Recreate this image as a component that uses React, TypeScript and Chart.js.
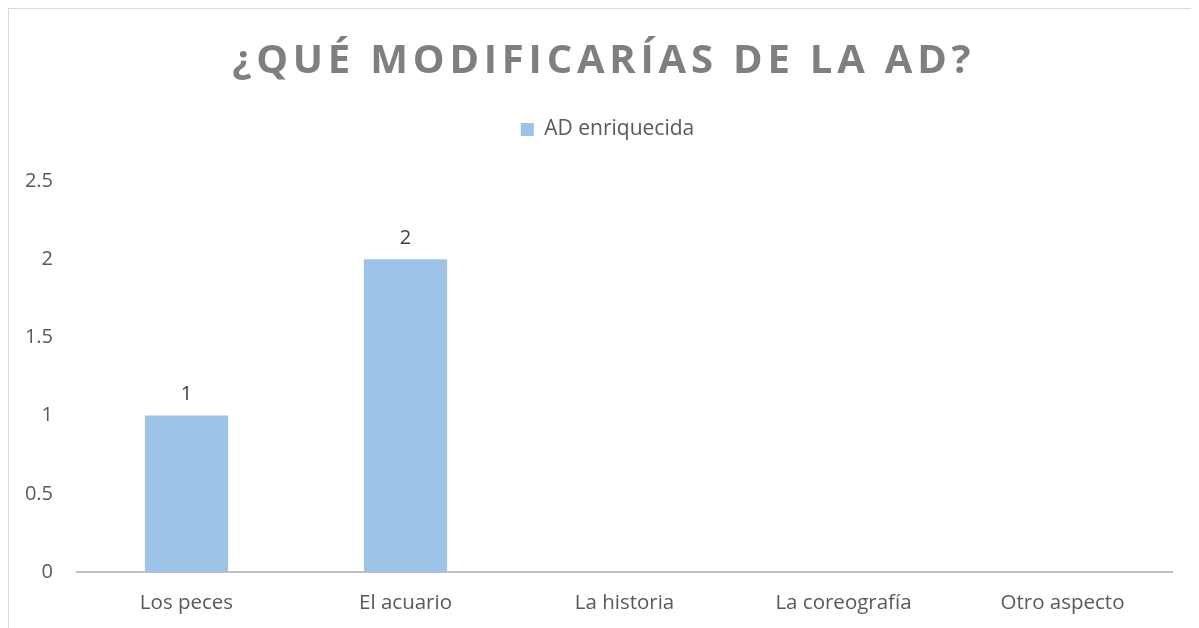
import React, { useEffect, useRef } from "react";
import { Chart, registerables } from "chart.js";

Chart.register(...registerables);

const titleText = "¿QUÉ MODIFICARÍAS DE LA AD?";
const seriesName = "AD enriquecida";
const categories = ["Los peces", "El acuario", "La historia", "La coreografía", "Otro aspecto"];
const values: (number | null)[] = [1, 2, null, null, null];
const yMin = 0;
const yMax = 2.5;
const yStep = 0.5;

const FONT = "'Open Sans', 'DejaVu Sans', sans-serif";
const LEGEND_HEIGHT = 72;
const LEGEND_SHIFT = 17;

const titlePlugin = {
  id: "spacedTitle",
  afterDraw(chart: any) {
    const ctx = chart.ctx as CanvasRenderingContext2D;
    ctx.save();
    const spacing = 4.8;
    (ctx as any).letterSpacing = spacing + "px";
    ctx.font = `bold 40px ${FONT}`;
    ctx.fillStyle = "#7f7f7f";
    ctx.textAlign = "center";
    ctx.textBaseline = "alphabetic";
    ctx.fillText(titleText, 592.5 + spacing / 2, 64);
    ctx.restore();
  },
};

const legendSpacer = {
  id: "legendSpacer",
  beforeLayout(chart: any) {
    const lg = chart.legend;
    if (lg && !lg.__patched) {
      const orig = lg.fit;
      lg.fit = function (this: any) {
        orig.call(this);
        this.height = LEGEND_HEIGHT;
      };
      lg.__patched = true;
    }
  },
  afterLayout(chart: any) {
    const lg = chart.legend;
    if (lg) {
      lg.left += LEGEND_SHIFT;
      lg.right += LEGEND_SHIFT;
    }
  },
};

const valueLabelPlugin = {
  id: "valueLabels",
  afterDatasetsDraw(chart: any) {
    const ctx = chart.ctx as CanvasRenderingContext2D;
    const meta = chart.getDatasetMeta(0);
    const data = chart.data.datasets[0].data;
    ctx.save();
    ctx.font = `20px ${FONT}`;
    ctx.fillStyle = "#404040";
    ctx.textAlign = "center";
    ctx.textBaseline = "bottom";
    meta.data.forEach((bar: any, i: number) => {
      const v = data[i];
      if (v === null || v === undefined) return;
      ctx.fillText(String(v), bar.x, bar.y - 11);
    });
    ctx.restore();
  },
};

export default function App() {
  const canvasRef = useRef<HTMLCanvasElement | null>(null);

  useEffect(() => {
    if (!canvasRef.current) return;
    const chart = new Chart(canvasRef.current, {
      type: "bar",
      data: {
        labels: categories,
        datasets: [
          {
            label: seriesName,
            data: values,
            backgroundColor: "#9dc3e6",
            borderWidth: 0,
            categoryPercentage: 1,
            barPercentage: 0.38,
          },
        ],
      },
      options: {
        animation: false,
        responsive: false,
        maintainAspectRatio: false,
        layout: { padding: { top: 100, right: 27, bottom: 0, left: 0 } },
        plugins: {
          title: { display: false },
          tooltip: { enabled: false },
          legend: {
            display: true,
            position: "top",
            labels: {
              boxWidth: 13,
              boxHeight: 13,
              padding: 10,
              color: "#595959",
              font: { family: FONT, size: 21 },
            },
          },
        },
        scales: {
          x: {
            afterFit: (scale: any) => {
              scale.height = 56;
            },
            grid: { display: true, drawOnChartArea: false, drawTicks: false },
            border: { display: true, color: "#bfbfbf", width: 2 },
            ticks: {
              color: "#595959",
              font: { family: FONT, size: 20.5 },
              padding: 19,
              maxRotation: 0,
            },
          },
          y: {
            min: yMin,
            max: yMax,
            afterFit: (scale: any) => {
              scale.width = 68;
            },
            grid: { display: false, drawTicks: false },
            border: { display: false },
            ticks: {
              stepSize: yStep,
              color: "#595959",
              font: { family: FONT, size: 20 },
              padding: 24,
              callback: (v: any) => String(v),
            },
          },
        },
      },
      plugins: [legendSpacer, titlePlugin, valueLabelPlugin],
    });
    return () => chart.destroy();
  }, []);

  return (
    <div
      style={{
        width: 1191,
        height: 620,
        boxSizing: "border-box",
        borderTop: "1px solid #d9d9d9",
        borderLeft: "1px solid #d9d9d9",
        background: "#ffffff",
        overflow: "hidden",
      }}
    >
      <canvas ref={canvasRef} width={1190} height={619} style={{ display: "block" }} />
    </div>
  );
}
